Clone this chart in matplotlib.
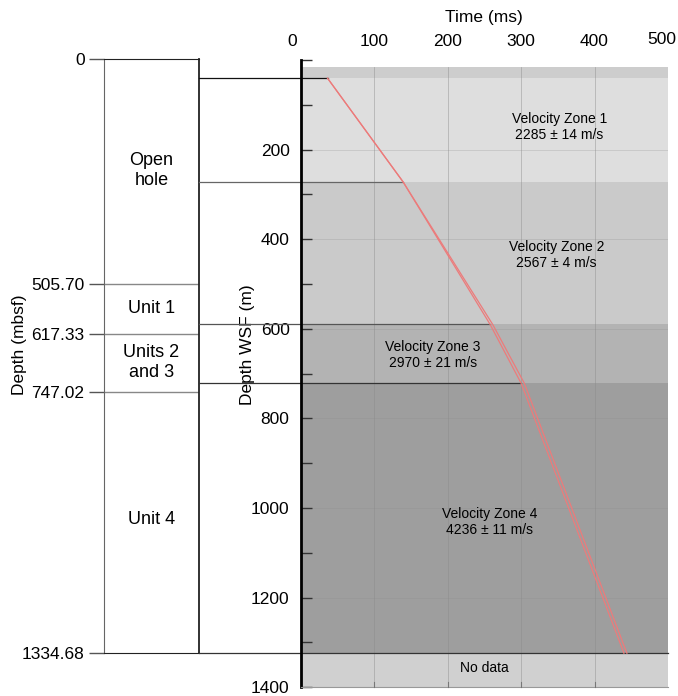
import matplotlib
matplotlib.use("Agg")
import matplotlib.pyplot as plt
from matplotlib.transforms import blended_transform_factory, ScaledTranslation

plt.rcParams['font.family'] = ['Liberation Sans', 'DejaVu Sans']

# lithologic units (mbsf)
unit_tops = [0, 505.70, 617.33, 747.02]
unit_bottom = 1334.68
unit_names = ['Open\nhole', 'Unit 1', 'Units 2\nand 3', 'Unit 4']
unit_label_depth = [250, 561, 682, 1035]

# velocity zones (m WSF)
zone_top = [41, 272, 590, 721]
zone_bottom = [272, 590, 721, 1324]
zone_names = ['Velocity Zone 1', 'Velocity Zone 2', 'Velocity Zone 3', 'Velocity Zone 4']
zone_velocity = ['2285 ± 14 m/s', '2567 ± 4 m/s', '2970 ± 21 m/s', '4236 ± 11 m/s']
zone_colors = ['#dedede', '#cacaca', '#b3b3b3', '#9e9e9e']
zone_label_pos = [(352, 150), (348, 435), (180, 658), (257, 1031)]

# travel time picks
depth_pick = [40.8, 271.6, 590, 721, 1324]
time_pick_a = [36.6, 139.2, 257.8, 299.9, 440.0]
time_pick_b = [36.6, 139.2, 261.3, 304.3, 444.1]

FS = 12.5
W, H = 678, 696
fig = plt.figure(figsize=(W / 100, H / 100), dpi=100)

# --- lithology column ---
ax1 = fig.add_axes([104 / W, (H - 653.3) / H, 95 / W, 594.3 / H])
ax1.set_ylim(unit_bottom, 0)
ax1.set_xlim(0, 1)
for d in unit_tops[1:]:
    ax1.axhline(d, color='#888888', lw=1.0)
for name, d in zip(unit_names, unit_label_depth):
    ax1.text(0.5, d, name, ha='center', va='center', fontsize=13, linespacing=1.25)
ax1.set_xticks([])
ax1.set_yticks(unit_tops + [unit_bottom])
ax1.set_yticklabels(['0', '505.70', '617.33', '747.02', '1334.68'], fontsize=FS)
ax1.tick_params(axis='y', direction='out', length=11, width=1, color='#555555', pad=3)
ax1.spines['left'].set_color('#666666')
ax1.spines['right'].set_color('#222222')
ax1.spines['right'].set_linewidth(1.3)
ax1.spines['top'].set_color('#222222')
ax1.spines['bottom'].set_color('#222222')
ax1.set_ylabel('Depth (mbsf)', fontsize=FS)
ax1.yaxis.set_label_coords(-0.81, 0.52)

# --- time-depth panel ---
ax2 = fig.add_axes([300.7 / W, (H - 687.3) / H, 367.3 / W, 627.3 / H])
ax2.set_xlim(0, 500)
ax2.set_ylim(1400, 0)

ax2.axhspan(15, zone_top[0], color='#cdcdcd', lw=0, zorder=0)
for top, bot, c in zip(zone_top, zone_bottom, zone_colors):
    ax2.axhspan(top, bot, color=c, lw=0, zorder=0)
ax2.axhspan(zone_bottom[-1], 1400, color='#d0d0d0', lw=0, zorder=0)

for t in [100, 200, 300, 400]:
    ax2.axvline(t, ymax=1 - 15 / 1400, color='#8a8a8a', lw=0.6, alpha=0.5, zorder=0.5)
for d in [200, 400, 600, 800, 1000, 1200]:
    ax2.axhline(d, color='#8a8a8a', lw=0.5, alpha=0.35, zorder=0.5)

for (t, d), name, v in zip(zone_label_pos, zone_names, zone_velocity):
    ax2.text(t, d, name + '\n' + v, ha='center', va='center', fontsize=10, linespacing=1.2)
ax2.text(250, 1357, 'No data', ha='center', va='center', fontsize=10)

ax2.plot(time_pick_a, depth_pick, color='#ec7b7b', lw=0.9, zorder=3)
ax2.plot(time_pick_b, depth_pick, color='#ec7b7b', lw=0.9, zorder=3)

# tie lines from the lithology column to the picks
tr = blended_transform_factory(ax2.transAxes, ax2.transData)
x_col = (199 - 300.7) / 367.3
line_colors = ['#111111', '#666666', '#555555', '#333333']
for d, t, c in zip(zone_top, time_pick_a[:4], line_colors):
    ax2.plot([x_col, t / 500], [d, d], color=c, lw=0.9, transform=tr, clip_on=False, zorder=2)
ax2.plot([x_col, 1], [zone_bottom[-1]] * 2, color='#333333', lw=0.9, transform=tr,
         clip_on=False, zorder=2)

ax2.xaxis.tick_top()
ax2.xaxis.set_label_position('top')
ax2.set_xticks([0, 100, 200, 300, 400, 500])
ax2.tick_params(axis='x', length=0, pad=8, labelsize=FS)
ax2.set_xlabel('Time (ms)', fontsize=FS, labelpad=7)
xlabels = ax2.get_xticklabels()
xlabels[0].set_transform(xlabels[0].get_transform() + ScaledTranslation(-0.09, 0, fig.dpi_scale_trans))
xlabels[-1].set_transform(xlabels[-1].get_transform() + ScaledTranslation(-0.06, 0.02, fig.dpi_scale_trans))

ax2.set_yticks(range(0, 1401, 100))
ax2.set_yticklabels(['' if d % 200 or d == 0 else str(d) for d in range(0, 1401, 100)])
ax2.tick_params(axis='y', direction='in', length=8, width=1, color='#333333', pad=8,
                labelsize=FS)
ax2.set_ylabel('Depth WSF (m)', fontsize=FS,
               bbox=dict(facecolor='white', edgecolor='none', pad=1))
ax2.yaxis.set_label_coords(-0.125, 0.546)

# bottom ticks pointing up
for t in [100, 200, 300, 400]:
    ax2.plot([t, t], [1400, 1388], color='#777777', lw=0.8, zorder=3, clip_on=False)

ax2.spines['top'].set_visible(False)
ax2.spines['right'].set_visible(False)
ax2.spines['left'].set_linewidth(2)
ax2.spines['bottom'].set_color('#999999')
ax2.spines['bottom'].set_linewidth(0.8)

fig.savefig('out.png', dpi=100)
